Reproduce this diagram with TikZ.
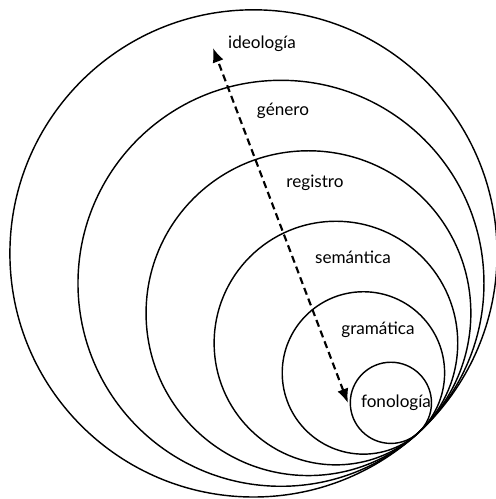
\documentclass[tikz,border=0pt]{standalone}
\usepackage{fontspec}
\setmainfont{Lato}
\usetikzlibrary{arrows.meta}

\begin{document}
\begin{tikzpicture}[
    ring/.style={line width=1pt},
    layer/.style={font=\fontsize{12}{14}\selectfont, inner sep=1pt},
    scale arrow/.style={dashed, line width=1.5pt, dash pattern=on 5pt off 3pt,
        {Latex[length=10pt,width=8pt]}-{Latex[length=10pt,width=8pt]}}
]
    \useasboundingbox (0, 0) rectangle (12.217, -12.291);

    % common point where all circles touch
    \coordinate (touch) at (10.305, -10.658);
    \foreach \r in {1,...,6}
        \draw[ring] (touch) ++(132.6:\r) circle (\r);

    \node[layer] (ideologia) at (6.453, -1.084) {ideología};
    \node[layer] (genero) at (6.970, -2.734) {género};
    \node[layer] (registro) at (7.759, -4.507) {registro};
    \node[layer] (semantica) at (8.695, -6.330) {semántica};
    \node[layer] (gramatica) at (9.310, -8.128) {gramática};
    \node[layer] (fonologia) at (9.754, -9.926) {fonología};

    \coordinate (top) at (5.246, -1.182);
    \coordinate (bottom) at (8.571, -9.926);
    \draw[scale arrow] (bottom) -- (top);
\end{tikzpicture}
\end{document}
